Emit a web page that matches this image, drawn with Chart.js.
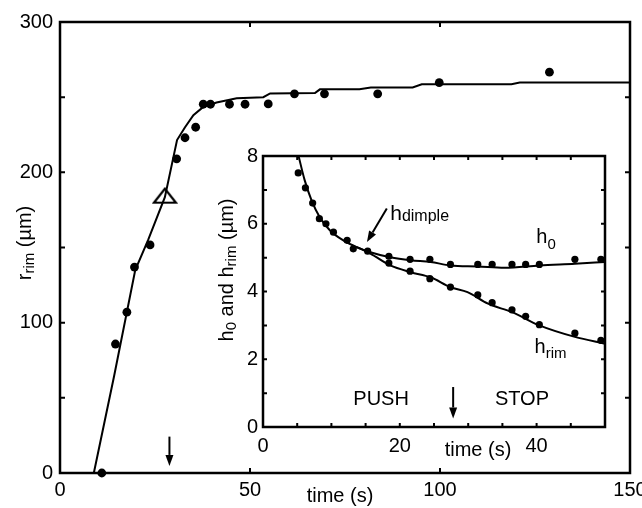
<!DOCTYPE html>
<html lang="en">
<head>
<meta charset="UTF-8">
<title>r_rim and h vs time</title>
<script src="https://cdn.jsdelivr.net/npm/chart.js@4"></script>
<style>
    * { margin: 0; padding: 0; }
    body { background: #fff; width: 642px; height: 508px; position: relative; overflow: hidden; }
    canvas { position: absolute; }
    #mainChart { left: 0; top: 0; }
    #insetChart { left: 200px; top: 140px; }
</style>
</head>
<body>
<canvas id="mainChart" width="642" height="508"></canvas>
<canvas id="insetChart" width="415" height="325"></canvas>
<script>
// main plot: r_rim (um) vs time (s)
const rimDotsX = [11, 14.6, 17.6, 19.6, 23.7, 30.7, 32.9, 35.7, 37.7, 39.6, 44.6, 48.7, 54.8, 61.7, 69.6, 83.6, 99.8, 128.8];
const rimDotsY = [0, 85.8, 107, 137, 151.7, 209, 223, 230, 245.3, 245.3, 245.3, 245.3, 245.5, 252.2, 252.2, 252.2, 259.7, 266.6];
const rimFitX = [8.9, 14.2, 19.8, 23.2, 27.6, 30.8, 32.9, 35.1, 37.7, 41.2, 46.5, 53.5, 55.3, 67.1, 68.4, 78.8, 81.8, 92.8, 95.2, 118.8, 121, 150];
const rimFitY = [0, 64, 135, 155, 183.5, 221.5, 230, 238, 243.5, 246.5, 249.3, 250, 252.5, 252.7, 255.2, 255.3, 256.4, 256.4, 258.6, 258.6, 259.7, 259.7];
const triangleX = [27.6];
const triangleY = [184.5];
const mainXTicks = [0, 50, 100, 150];
const mainYMarks = [0, 50, 100, 150, 200, 250, 300];
const mainYTicks = [0, 100, 200, 300];

// inset: h0 and h_rim (um) vs time (s)
const h0X = [5.15, 6.2, 7.26, 8.24, 9.2, 10.3, 12.3, 13.2, 15.3, 18.4, 21.5, 24.4, 27.4, 31.4, 33.5, 36.4, 38.4, 40.4, 45.6, 49.4];
const h0Y = [7.5, 7.06, 6.61, 6.15, 6.0, 5.75, 5.51, 5.26, 5.19, 5.04, 4.95, 4.95, 4.8, 4.8, 4.8, 4.8, 4.8, 4.8, 4.95, 4.95];
const hrimX = [18.4, 21.5, 24.4, 27.4, 31.4, 33.5, 36.4, 38.4, 40.4, 45.6, 49.4];
const hrimY = [4.84, 4.6, 4.38, 4.13, 3.9, 3.67, 3.46, 3.27, 3.02, 2.77, 2.56];
const h0FitX = [5.2, 6.1, 7.1, 8.3, 9.8, 11.8, 13.7, 15.7, 18.6, 21.6, 24.5, 27.4, 31.4, 35.3, 40.4, 45.6, 50];
const h0FitY = [8.0, 7.28, 6.69, 6.19, 5.8, 5.5, 5.31, 5.16, 5.01, 4.92, 4.87, 4.77, 4.74, 4.70, 4.77, 4.82, 4.87];
const hrimFitX = [13.7, 15.7, 18.6, 21.6, 24.5, 27.4, 29.9, 32.9, 36.4, 40.4, 45.6, 50];
const hrimFitY = [5.31, 5.12, 4.77, 4.57, 4.42, 4.13, 3.98, 3.64, 3.39, 3.0, 2.66, 2.46];
const insetXMarks = [0, 5, 10, 15, 20, 25, 30, 35, 40, 45, 50];
const insetXTicks = [0, 20, 40];
const insetYMarks = [0, 1, 2, 3, 4, 5, 6, 7, 8];
const insetYTicks = [0, 2, 4, 6, 8];

const FONT = "'Liberation Sans', Arial, Helvetica, sans-serif";

const pts = (xs, ys) => xs.map((x, i) => ({ x: x, y: ys[i] }));

// hollow triangle marker
const triangle = document.createElement('canvas');
triangle.width = 26;
triangle.height = 18;
const tctx = triangle.getContext('2d');
tctx.lineWidth = 2.2;
tctx.beginPath();
tctx.moveTo(13, 2);
tctx.lineTo(2, 16);
tctx.lineTo(24, 16);
tctx.closePath();
tctx.stroke();

// text with subscripts: parts = [[text, size, dy], ...]
function richText(ctx, parts, x, y, align) {
    let w = 0;
    parts.forEach(p => { ctx.font = p[1] + 'px ' + FONT; w += ctx.measureText(p[0]).width; });
    let cx = align === 'center' ? x - w / 2 : x;
    ctx.textAlign = 'left';
    parts.forEach(p => {
        ctx.font = p[1] + 'px ' + FONT;
        ctx.fillText(p[0], cx, y + (p[2] || 0));
        cx += ctx.measureText(p[0]).width;
    });
}

function arrow(ctx, x1, y1, x2, y2) {
    const a = Math.atan2(y2 - y1, x2 - x1);
    const len = 11, half = 4;
    const bx = x2 - len * Math.cos(a), by = y2 - len * Math.sin(a);
    ctx.lineWidth = 2;
    ctx.beginPath();
    ctx.moveTo(x1, y1);
    ctx.lineTo(bx, by);
    ctx.stroke();
    ctx.beginPath();
    ctx.moveTo(x2, y2);
    ctx.lineTo(bx + half * Math.sin(a), by - half * Math.cos(a));
    ctx.lineTo(bx - half * Math.sin(a), by + half * Math.cos(a));
    ctx.closePath();
    ctx.fill();
}

// box, inward ticks on all four sides, tick labels
const framePlugin = {
    id: 'frame',
    beforeDatasetsDraw(chart, args, opts) {
        const { ctx, chartArea: a, scales: { x, y } } = chart;
        ctx.save();
        ctx.strokeStyle = '#000';
        ctx.lineWidth = opts.width;
        ctx.strokeRect(a.left, a.top, a.right - a.left, a.bottom - a.top);
        ctx.lineWidth = 2;
        ctx.beginPath();
        opts.xMarks.forEach(v => {
            const px = x.getPixelForValue(v);
            ctx.moveTo(px, a.bottom); ctx.lineTo(px, a.bottom - opts.tick);
            ctx.moveTo(px, a.top); ctx.lineTo(px, a.top + opts.tick);
        });
        opts.yMarks.forEach(v => {
            const py = y.getPixelForValue(v);
            ctx.moveTo(a.left, py); ctx.lineTo(a.left + opts.tick, py);
            ctx.moveTo(a.right, py); ctx.lineTo(a.right - opts.tick, py);
        });
        ctx.stroke();
        ctx.fillStyle = '#000';
        ctx.font = opts.size + 'px ' + FONT;
        ctx.textBaseline = 'middle';
        ctx.textAlign = 'center';
        opts.xLabels.forEach(v => ctx.fillText(String(v), x.getPixelForValue(v), a.bottom + opts.xPad));
        ctx.textAlign = 'right';
        opts.yLabels.forEach(v => ctx.fillText(String(v), a.left - opts.yPad, y.getPixelForValue(v)));
        ctx.restore();
    }
};

const mainNotes = {
    id: 'mainNotes',
    afterDraw(chart) {
        const { ctx, scales: { x, y } } = chart;
        ctx.save();
        ctx.fillStyle = '#000';
        ctx.strokeStyle = '#000';
        ctx.textBaseline = 'middle';
        richText(ctx, [['time (s)', 20]], 340, 496, 'center');
        ctx.translate(25, 243);
        ctx.rotate(-Math.PI / 2);
        richText(ctx, [['r', 20], ['rim', 15, 5], [' (\u00b5m)', 20]], 0, 0, 'center');
        ctx.setTransform(1, 0, 0, 1, 0, 0);
        arrow(ctx, x.getPixelForValue(28.8), y.getPixelForValue(24.2), x.getPixelForValue(28.8), y.getPixelForValue(4.7));
        ctx.restore();
    }
};

const insetNotes = {
    id: 'insetNotes',
    afterDraw(chart) {
        const { ctx, scales: { x, y } } = chart;
        ctx.save();
        ctx.fillStyle = '#000';
        ctx.strokeStyle = '#000';
        ctx.textBaseline = 'middle';
        richText(ctx, [['time (s)', 20]], 278, 310, 'center');
        ctx.save();
        ctx.translate(27, 130);
        ctx.rotate(-Math.PI / 2);
        richText(ctx, [['h', 20], ['0', 15, 5], [' and h', 20], ['rim', 15, 5], [' (\u00b5m)', 20]], 0, 0, 'center');
        ctx.restore();
        ctx.textBaseline = 'alphabetic';
        richText(ctx, [['PUSH', 20]], x.getPixelForValue(13.2), y.getPixelForValue(0.64), 'left');
        richText(ctx, [['STOP', 20]], x.getPixelForValue(33.9), y.getPixelForValue(0.64), 'left');
        richText(ctx, [['h', 21], ['dimple', 16, 1]], x.getPixelForValue(18.6), y.getPixelForValue(6.12), 'left');
        richText(ctx, [['h', 20], ['0', 15, 6]], x.getPixelForValue(39.96), y.getPixelForValue(5.42), 'left');
        richText(ctx, [['h', 20], ['rim', 15, 5]], x.getPixelForValue(39.7), y.getPixelForValue(2.17), 'left');
        arrow(ctx, x.getPixelForValue(27.8), y.getPixelForValue(1.18), x.getPixelForValue(27.8), y.getPixelForValue(0.25));
        arrow(ctx, x.getPixelForValue(18.1), y.getPixelForValue(6.45), x.getPixelForValue(15.2), y.getPixelForValue(5.46));
        ctx.restore();
    }
};

const baseOptions = (pad, xMax, yMax, frame) => ({
    responsive: false,
    animation: false,
    events: [],
    layout: { padding: pad },
    scales: {
        x: { type: 'linear', min: 0, max: xMax, display: false },
        y: { type: 'linear', min: 0, max: yMax, display: false }
    },
    plugins: {
        legend: { display: false },
        tooltip: { enabled: false },
        frame: frame
    }
});

new Chart(document.getElementById('mainChart'), {
    type: 'scatter',
    data: {
        datasets: [
            { data: pts(rimFitX, rimFitY), showLine: true, borderColor: '#000', borderWidth: 2, pointRadius: 0, clip: false },
            { data: pts(rimDotsX, rimDotsY), pointRadius: 4.4, backgroundColor: '#000', borderWidth: 0, clip: false },
            { data: pts(triangleX, triangleY), pointStyle: triangle, clip: false }
        ]
    },
    options: baseOptions({ left: 60, top: 22, right: 12, bottom: 35 }, 150, 300, {
        width: 2.5, tick: 5, size: 20, xPad: 17, yPad: 7,
        xMarks: mainXTicks, yMarks: mainYMarks, xLabels: mainXTicks, yLabels: mainYTicks
    }),
    plugins: [framePlugin, mainNotes]
});

new Chart(document.getElementById('insetChart'), {
    type: 'scatter',
    data: {
        datasets: [
            { data: pts(h0FitX, h0FitY), showLine: true, cubicInterpolationMode: 'monotone', borderColor: '#000', borderWidth: 2, pointRadius: 0, clip: false },
            { data: pts(hrimFitX, hrimFitY), showLine: true, cubicInterpolationMode: 'monotone', borderColor: '#000', borderWidth: 2, pointRadius: 0, clip: false },
            { data: pts(h0X, h0Y), pointRadius: 3.6, backgroundColor: '#000', borderWidth: 0, clip: false },
            { data: pts(hrimX, hrimY), pointRadius: 3.6, backgroundColor: '#000', borderWidth: 0, clip: false }
        ]
    },
    options: baseOptions({ left: 63, top: 16, right: 10, bottom: 38 }, 50, 8, {
        width: 2.5, tick: 4, size: 20, xPad: 19, yPad: 5,
        xMarks: insetXMarks, yMarks: insetYMarks, xLabels: insetXTicks, yLabels: insetYTicks
    }),
    plugins: [framePlugin, insetNotes]
});
</script>
</body>
</html>
